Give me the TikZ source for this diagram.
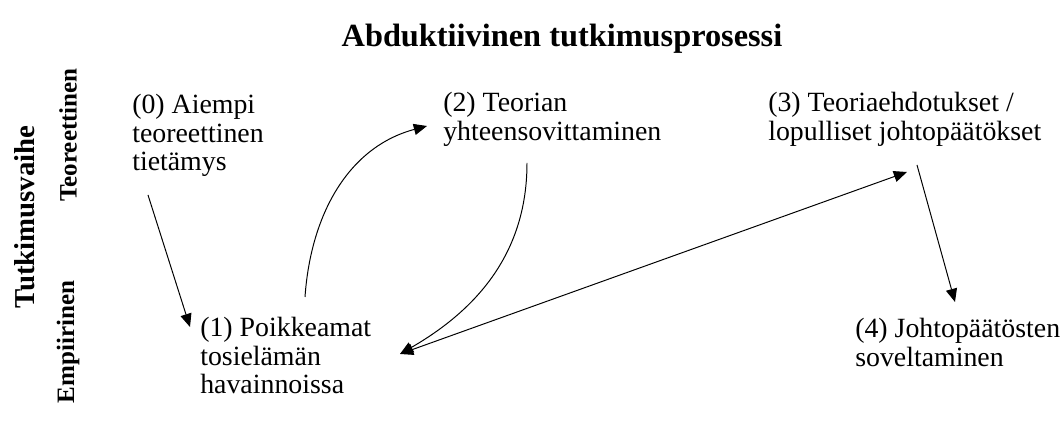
\documentclass[tikz,border=0pt]{standalone}
\usepackage{fontspec}
\setmainfont{Liberation Serif}
\usetikzlibrary{arrows.meta,calc}
\tikzset{
  flow/.style={-{Triangle[length=3.3mm, width=2.8mm]}, line width=0.7pt},
  both/.style={{Triangle[length=3.3mm, width=2.8mm]}-{Triangle[length=3.3mm, width=2.8mm]}, line width=0.7pt},
  lbl/.style={font=\fontsize{19.8}{20.3}\selectfont, align=left, anchor=north west, inner sep=0pt},
  phase/.style={font=\fontsize{17.8}{20}\selectfont\bfseries, rotate=90, inner sep=0pt},
}

\begin{document}
\begin{tikzpicture}[x=0.025cm, y=0.025cm]
  \useasboundingbox (0,0) rectangle (1061,425);
  \node[font=\fontsize{23}{26}\selectfont\bfseries] (title) at (562,386) {Abduktiivinen tutkimusprosessi};
  % phase labels on the left
  \node[phase, font=\fontsize{20.5}{22}\selectfont\bfseries] (vaihe) at (25,208) {Tutkimusvaihe};
  \node[phase] (teor) at (68,290) {Teoreettinen};
  \node[phase] (emp) at (68,83) {Empiirinen};
  % steps
  \node[lbl] (n0) at (132,331) {(0) Aiempi\\teoreettinen\\tietämys};
  \node[lbl] (n1) at (200,108) {(1) Poikkeamat\\tosielämän\\havainnoissa};
  \node[lbl] (n2) at (443,333) {(2) Teorian\\yhteensovittaminen};
  \node[lbl] (n3) at (768,333) {(3) Teoriaehdotukset /\\lopulliset johtopäätökset};
  \node[lbl] (n4) at (855,107) {(4) Johtopäätösten\\soveltaminen};
  % connectors
  \draw[flow] ($(n0.north west)+(16,-101)$) -- ($(n1.north west)+(-10,-10)$);
  \draw[flow] ($(n1.north west)+(105,20)$) to[out=86, in=195] ($(n2.north west)+(-16,-34)$);
  \draw[flow] ($(n2.north west)+(84,-71)$) to[out=-90, in=30] ($(n1.north west)+(200,-37)$);
  \draw[both] ($(n1.north west)+(200,-37)$) -- ($(n3.north west)+(139,-80)$);
  \draw[flow] ($(n3.north west)+(149,-73)$) -- ($(n4.north west)+(100,16)$);
\end{tikzpicture}
\end{document}
